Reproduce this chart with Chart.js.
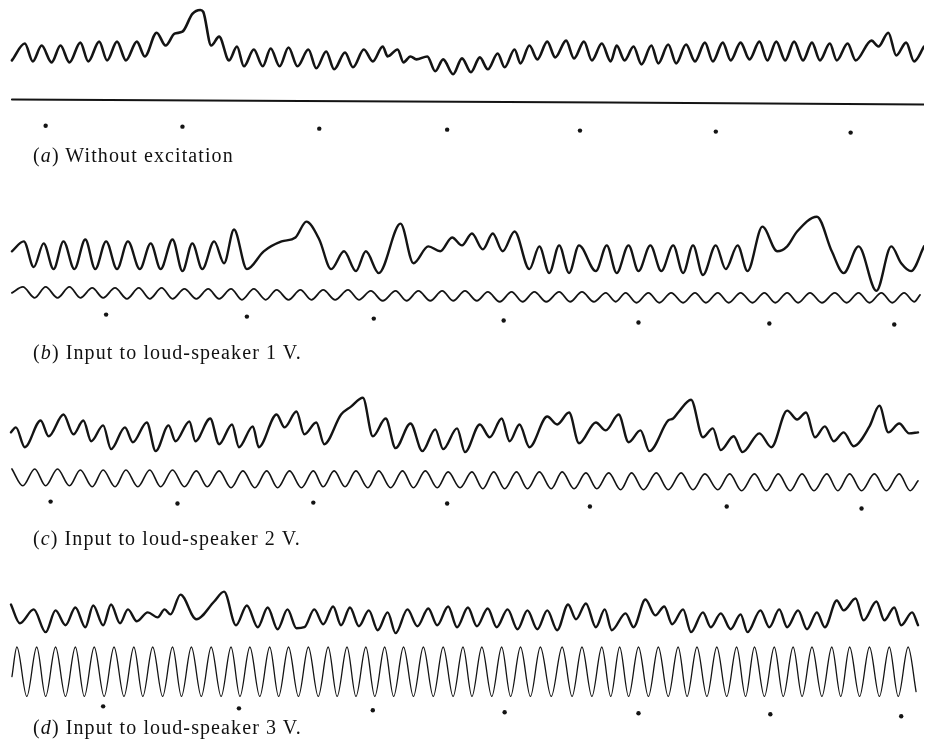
<!DOCTYPE html>
<html>
<head>
<meta charset="utf-8">
<script src="https://cdn.jsdelivr.net/npm/chart.js@4.4.1/dist/chart.umd.min.js"></script>
<style>
  body { margin: 0; background: #fff; }
  #wrap { position: relative; width: 928px; height: 744px; }
  canvas { position: absolute; left: 0; top: 0; }
  .cap { position: absolute; left: 33px; font-family: "Liberation Serif", "DejaVu Serif", serif; font-size: 20px; letter-spacing: 1.1px; color: #111; line-height: 1; white-space: nowrap; }
</style>
</head>
<body>
<div id="wrap">
  <canvas id="traces" width="928" height="744"></canvas>
  <div class="cap" style="top:145px">(<i>a</i>) Without excitation</div>
  <div class="cap" style="top:342px">(<i>b</i>) Input to loud-speaker 1 V.</div>
  <div class="cap" style="top:528px">(<i>c</i>) Input to loud-speaker 2 V.</div>
  <div class="cap" style="top:717px">(<i>d</i>) Input to loud-speaker 3 V.</div>
</div>
<script>
// Oscillograph records: [time, deflection] pairs
// (time and deflection both in plate units, deflection measured downwards)

// (a) without excitation
const aTrace = [[8,57],[21,40],[29,58],[38,42],[48,59],[57,42],[66,59],[77,39],[85,58],[96,38],[104,57],[114,38],[123,57],[134,38],[142,53],[154,29],[163,42],[172,30],[180,28],[190,10],[198,6],[201,8],[209,42],[217,33],[227,57],[235,43],[242,63],[252,46],[261,63],[269,45],[278,63],[287,44],[296,63],[307,46],[315,65],[325,48],[333,66],[344,49],[352,64],[363,46],[372,58],[382,43],[387,53],[397,46],[403,59],[410,53],[416,56],[427,53],[435,68],[443,56],[453,71],[462,55],[471,69],[480,54],[488,66],[498,50],[505,64],[515,46],[521,60],[530,42],[538,56],[548,38],[556,54],[567,37],[575,55],[585,38],[593,57],[603,40],[612,58],[618,42],[626,57],[635,43],[643,61],[653,42],[660,60],[670,41],[678,60],[688,41],[697,58],[707,39],[715,58],[725,39],[733,57],[743,39],[752,56],[762,38],[770,57],[779,38],[788,57],[797,38],[806,57],[815,39],[823,57],[833,40],[840,57],[851,40],[859,57],[875,37],[882,43],[892,29],[900,52],[910,39],[918,58],[928,43]];
const aLine = [[8,96.5],[300,98],[610,99.5],[928,101.5]];
const aMarks = [[42,123],[180,124],[318,126],[447,127],[581,128],[718,129],[854,130]];

// (b) 1 V
const bTrace = [[8,250],[20,240],[30,266],[40,242],[50,268],[60,240],[71,268],[82,238],[92,268],[103,240],[114,268],[125,240],[137,268],[148,242],[158,268],[170,238],[180,270],[190,242],[200,268],[212,240],[222,262],[232,228],[245,268],[262,250],[280,240],[294,236],[305,220],[318,238],[330,268],[343,250],[355,270],[365,250],[378,272],[400,222],[413,262],[428,245],[440,250],[452,236],[462,244],[472,232],[483,248],[493,232],[503,250],[515,230],[530,268],[540,245],[550,272],[560,244],[570,272],[580,244],[597,270],[608,244],[618,272],[630,244],[640,270],[652,244],[663,270],[675,244],[685,272],[695,244],[705,274],[718,244],[728,268],[740,244],[750,270],[765,225],[780,250],[790,245],[800,230],[820,215],[835,250],[847,272],[862,245],[880,290],[895,245],[905,262],[915,270],[928,245]];
const bTone = [[8,292],[19,286],[31,297],[42,286],[54,297],[66,286],[77,297],[89,287],[100,297],[112,287],[124,298],[136,287],[147,298],[159,287],[170,298],[182,288],[194,298],[206,288],[217,298],[229,288],[240,299],[252,288],[264,299],[275,289],[287,299],[299,289],[310,299],[322,289],[334,299],[347,289],[358,299],[370,290],[382,300],[395,290],[406,300],[418,290],[430,300],[442,290],[453,300],[465,290],[477,300],[488,291],[500,301],[512,291],[523,301],[535,291],[547,301],[560,291],[571,301],[583,291],[595,301],[607,292],[617,301],[627,292],[638,302],[650,292],[661,302],[673,292],[685,302],[697,292],[708,302],[720,292],[731,302],[743,292],[755,302],[767,292],[778,302],[790,292],[801,302],[813,292],[825,302],[838,292],[850,302],[862,292],[873,302],[885,292],[896,302],[908,292],[918,301],[924,294]];
const bMarks = [[103,314],[245,316],[373,318],[504,320],[640,322],[772,323],[898,324]];

// (c) 2 V
const cTrace = [[7,433],[12,428],[21,448],[37,421],[45,437],[60,415],[70,435],[80,421],[88,442],[100,426],[108,450],[122,428],[130,443],[144,423],[153,452],[166,426],[173,442],[187,422],[193,442],[208,419],[217,445],[230,425],[237,448],[251,427],[257,448],[275,415],[283,428],[295,412],[303,435],[315,423],[323,445],[340,415],[350,407],[362,398],[372,437],[385,419],[395,449],[410,424],[422,452],[435,430],[443,450],[457,429],[465,453],[480,425],[490,438],[502,419],[510,442],[520,425],[530,448],[548,417],[558,425],[570,413],[580,444],[597,423],[607,431],[620,415],[630,443],[642,431],[651,452],[670,421],[675,419],[680,413],[693,400],[705,438],[715,429],[723,451],[736,437],[745,453],[762,434],[774,448],[790,411],[800,420],[809,413],[818,438],[828,427],[837,442],[847,433],[857,447],[873,427],[883,406],[892,433],[903,424],[913,434],[922,433]];
const cTone = [[8,470],[19,487],[31,470],[42,487],[54,470],[66,487],[77,471],[89,488],[100,471],[112,488],[123,471],[135,488],[147,471],[158,488],[170,471],[182,488],[194,472],[205,488],[217,472],[229,489],[241,472],[253,489],[265,472],[276,489],[288,472],[300,489],[312,472],[322,488],[333,472],[344,488],[355,472],[367,489],[378,472],[390,489],[402,472],[413,489],[425,472],[437,489],[448,473],[460,489],[472,473],[483,490],[494,473],[505,490],[517,473],[528,490],[540,473],[552,490],[563,473],[575,490],[587,474],[598,490],[610,474],[622,491],[633,474],[645,491],[658,474],[670,491],[683,474],[695,491],[707,475],[720,491],[732,475],[744,492],[757,475],[769,492],[781,475],[793,492],[805,475],[817,492],[830,475],[841,492],[853,475],[865,492],[878,475],[890,492],[903,475],[914,492],[922,482]];
const cMarks = [[47,503],[175,505],[312,504],[447,505],[591,508],[729,508],[865,510]];

// (d) 3 V
const dTrace = [[7,607],[16,626],[30,612],[42,635],[52,613],[62,628],[72,610],[82,630],[90,608],[100,628],[108,607],[117,626],[125,612],[134,624],[145,615],[155,620],[162,612],[168,617],[178,597],[194,622],[212,604],[222,594],[234,628],[245,608],[256,630],[266,610],[276,632],[286,612],[295,631],[303,630],[313,612],[322,627],[332,609],[340,628],[349,610],[358,629],[368,613],[377,633],[387,615],[395,636],[407,612],[417,629],[428,611],[437,628],[448,609],[457,630],[468,610],[477,629],[488,611],[497,630],[508,612],[518,632],[528,613],[538,632],[548,613],[558,633],[569,607],[577,622],[587,606],[597,630],[606,612],[613,633],[627,616],[635,630],[647,602],[657,618],[666,609],[674,627],[685,612],[693,635],[705,615],[713,630],[723,616],[733,632],[743,617],[750,635],[763,613],[772,630],[782,612],[790,630],[801,613],[810,632],[820,615],[828,630],[840,603],[847,613],[859,601],[867,623],[880,604],[888,623],[898,610],[905,628],[916,615],[922,628]];
const dTone = [[8,680],[13,650],[23,700],[33,650],[42,700],[52,650],[62,700],[72,650],[81,700],[91,650],[101,700],[111,650],[121,700],[131,650],[140,700],[150,650],[160,700],[170,650],[179,700],[189,650],[199,700],[209,650],[219,700],[229,650],[238,700],[248,650],[258,700],[268,650],[277,700],[287,650],[297,700],[307,650],[317,700],[327,650],[336,700],[346,650],[355,700],[365,650],[374,700],[384,650],[393,700],[403,650],[413,700],[423,650],[433,700],[443,650],[453,700],[463,650],[472,700],[482,650],[492,700],[502,650],[511,700],[521,650],[531,700],[541,650],[552,700],[563,650],[573,700],[583,650],[593,700],[603,650],[612,700],[621,650],[630,700],[640,650],[650,700],[660,650],[670,700],[680,650],[689,700],[699,650],[709,700],[719,650],[729,700],[739,650],[748,700],[757,650],[767,700],[777,650],[786,700],[796,650],[805,700],[815,650],[825,700],[835,650],[844,700],[853,650],[863,700],[873,650],[883,700],[893,650],[902,700],[912,650],[920,695]];
const dMarks = [[100,710],[237,712],[372,714],[505,716],[640,717],[773,718],[905,720]];

const ink = '#141414';

function trace(data, width) {
  return {
    type: 'line',
    data: data,
    borderColor: ink,
    borderWidth: width,
    pointRadius: 0,
    fill: false,
    cubicInterpolationMode: 'monotone',
    borderCapStyle: 'round',
    borderJoinStyle: 'round'
  };
}

function marks(data) {
  return {
    type: 'scatter',
    data: data,
    pointRadius: 2.2,
    pointBackgroundColor: ink,
    pointBorderWidth: 0,
    showLine: false
  };
}

new Chart(document.getElementById('traces'), {
  type: 'line',
  data: {
    datasets: [
      trace(aTrace, 2.6),
      Object.assign(trace(aLine, 2), { cubicInterpolationMode: 'default', tension: 0 }),
      marks(aMarks),
      trace(bTrace, 2.4),
      trace(bTone, 1.8),
      marks(bMarks),
      trace(cTrace, 2.4),
      trace(cTone, 1.6),
      marks(cMarks),
      trace(dTrace, 2.4),
      trace(dTone, 1.3),
      marks(dMarks)
    ]
  },
  options: {
    responsive: false,
    animation: false,
    layout: { padding: 0 },
    plugins: { legend: { display: false }, tooltip: { enabled: false } },
    scales: {
      x: { type: 'linear', min: 0, max: 928, display: false },
      y: { type: 'linear', min: 0, max: 744, reverse: true, display: false }
    }
  }
});
</script>
</body>
</html>
